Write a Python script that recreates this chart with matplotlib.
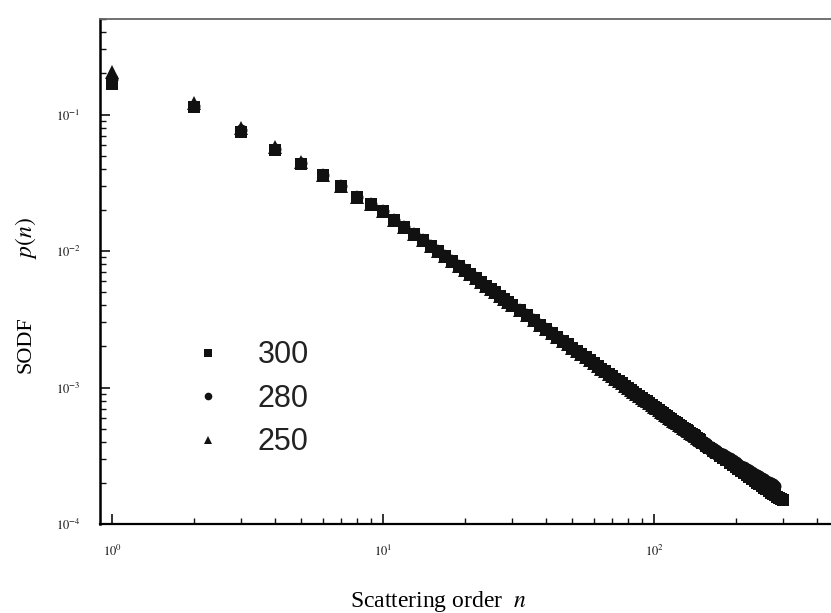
import numpy as np
import matplotlib
matplotlib.use("Agg")
import matplotlib.pyplot as plt
from matplotlib.lines import Line2D

plt.rcParams['font.family'] = ['Liberation Serif', 'DejaVu Serif']
plt.rcParams['mathtext.fontset'] = 'stix'

# Streuordnung n (Kopf, Mitte, Ende)
n_head = [1, 2, 3, 4, 5]
n_mid = list(range(6, 31)) + list(range(32, 149, 2))
n_tail = list(range(150, 301, 5))

# p(n) fuer kleine n, je Serie
p_head_300 = [0.168, 0.113, 0.075, 0.055, 0.0435]
p_head_280 = [0.182, 0.116, 0.077, 0.056, 0.0440]
p_head_250 = [0.205, 0.121, 0.079, 0.0575, 0.0450]

# gemeinsamer Mittelteil (Serien liegen uebereinander)
p_mid = [0.036, 0.030, 0.025, 0.022, 0.0195,
         0.01701, 0.01502, 0.0134, 0.01205, 0.01092, 0.00996, 0.00913, 0.00841,
         0.00778, 0.00724, 0.00675, 0.00631, 0.00593, 0.00557, 0.00526, 0.00497,
         0.00471, 0.00447, 0.00426, 0.00405,
         0.00370, 0.00339, 0.00312, 0.00289, 0.00269, 0.00250, 0.00234, 0.00220,
         0.00207, 0.00195, 0.00185, 0.00175, 0.00166, 0.00158, 0.00150,
         0.001435, 0.001371, 0.001313, 0.001257, 0.001206, 0.001159, 0.001114,
         0.001073, 0.001033, 0.000997, 0.000963, 0.000930, 0.000899, 0.000870,
         0.000842, 0.000816, 0.000791, 0.000768, 0.000746, 0.000724, 0.000704,
         0.000685, 0.000666, 0.000649, 0.000632, 0.000616, 0.000601, 0.000586,
         0.000572, 0.000558, 0.000545, 0.000533, 0.000521, 0.000509, 0.000498,
         0.000487, 0.000477, 0.000467, 0.000457, 0.000448, 0.000439, 0.000430,
         0.000421, 0.000413]

# Ende der Kurven (leicht streuend)
p_tail_300 = [0.000394, 0.000375, 0.000359, 0.000343, 0.000329, 0.000315,
              0.000304, 0.000292, 0.000280, 0.000271, 0.000261, 0.000251,
              0.000243, 0.000235, 0.000228, 0.000220, 0.000213, 0.000207,
              0.000201, 0.000195, 0.000189, 0.000184, 0.000179, 0.000175,
              0.000170, 0.000166, 0.000162, 0.000158, 0.000155, 0.000152,
              0.000150]
p_tail_280 = [0.000406, 0.000389, 0.000374, 0.000360, 0.000347, 0.000334,
              0.000324, 0.000313, 0.000302, 0.000294, 0.000285, 0.000275,
              0.000268, 0.000260, 0.000254, 0.000247, 0.000240, 0.000234,
              0.000229, 0.000223, 0.000217, 0.000213, 0.000208, 0.000204,
              0.000199, 0.000196, 0.000191]
p_tail_250 = [0.000406, 0.000389, 0.000373, 0.000358, 0.000344, 0.000331,
              0.000320, 0.000309, 0.000298, 0.000289, 0.000280, 0.000271,
              0.000264, 0.000255, 0.000249, 0.000241, 0.000235, 0.000228,
              0.000222, 0.000217, 0.000211]

labels = ['300', '280', '250']
markers = ['s', 'o', '^']

series = [
    (n_head + n_mid + n_tail[:len(p_tail_300)], p_head_300 + p_mid + p_tail_300),
    (n_head + n_mid + n_tail[:len(p_tail_280)], p_head_280 + p_mid + p_tail_280),
    (n_head + n_mid + n_tail[:len(p_tail_250)], p_head_250 + p_mid + p_tail_250),
]

fig = plt.figure(figsize=(8.31, 6.13), dpi=100)
ax = fig.add_axes([0.1203, 0.1452, 0.8797, 0.8238])

sizes = [8.4, 8.6, 9.4]
for (n, p), m, ms in zip(series, markers, sizes):
    ax.plot(n, p, linestyle='none', marker=m, markersize=ms,
            color='#111111', markeredgewidth=0)

ax.set_xscale('log')
ax.set_yscale('log')
ax.set_xlim(0.903, 450)
ax.set_ylim(1e-4, 0.501)

ax.set_xticks([1, 10, 100])
ax.set_xticklabels([r'$10^{0}$', r'$10^{1}$', r'$10^{2}$'])
ax.set_yticks([1e-4, 1e-3, 1e-2, 1e-1])
ax.set_yticklabels([r'$10^{-4}$', r'$10^{-3}$', r'$10^{-2}$', r'$10^{-1}$'])
ax.tick_params(which='both', direction='in', top=False, right=False,
               labelsize=9, colors='#111111')
ax.tick_params(which='major', length=7, width=1.2, pad=14)
ax.tick_params(which='minor', length=4, width=1.0)

ax.spines['right'].set_visible(False)
ax.spines['top'].set_color('#666666')
ax.spines['top'].set_linewidth(1.3)
ax.spines['left'].set_linewidth(1.8)
ax.spines['bottom'].set_linewidth(1.6)

fig.text(350 / 831, 1 - 607 / 613, r'Scattering order  $n$', ha='left',
         va='baseline', fontsize=17)
fig.text(26 / 831, 1 - 345 / 613, 'SODF', ha='center', va='center',
         rotation=90, fontsize=16)
fig.text(26 / 831, 1 - 238 / 613, r'$p(n)$', ha='center', va='center',
         rotation=90, fontsize=17)

handles = [Line2D([], [], linestyle='none', marker=m, markersize=5.5,
                  color='#111111', markeredgewidth=0) for m in markers]
leg = ax.legend(handles, labels, loc='upper left', frameon=False,
                bbox_to_anchor=(171 / 831, 1 - 313 / 613),
                bbox_transform=fig.transFigure,
                handlelength=0.6, handletextpad=1.34, labelspacing=0.44,
                prop={'family': 'Liberation Sans', 'size': 22})
for t in leg.get_texts():
    t.set_color('#222222')

fig.savefig('out.png', dpi=100)
